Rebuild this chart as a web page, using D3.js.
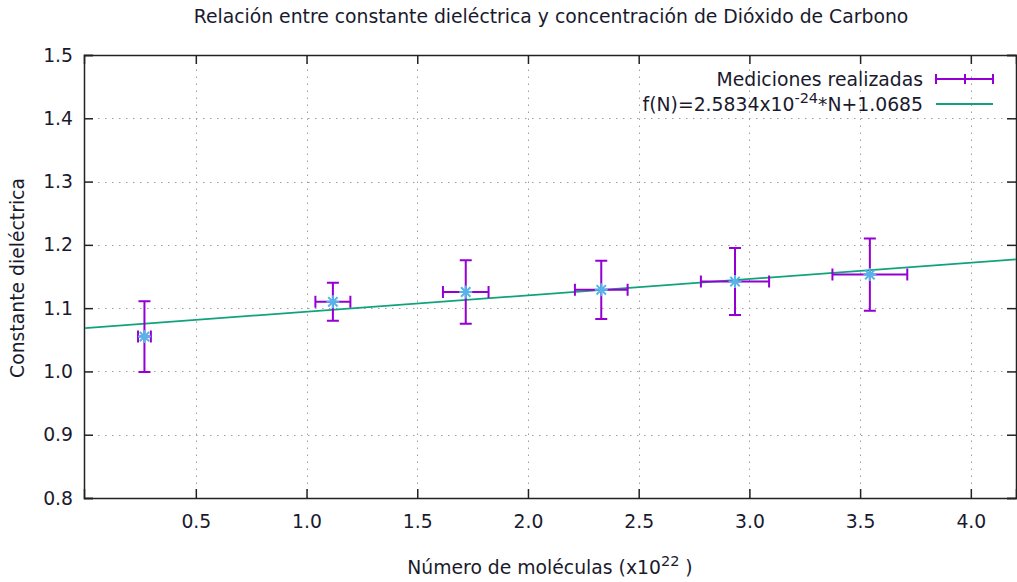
<!DOCTYPE html>
<html>
<head>
<meta charset="utf-8">
<script src="https://cdn.jsdelivr.net/npm/d3@7"></script>
<style>
  body { margin: 0; background: #fff; }
  svg { display: block; font-family: "DejaVu Sans", sans-serif; }
</style>
</head>
<body>
<svg width="1017" height="582"></svg>
<script>
// measured points (x in units of 1e22 molecules)
var xVals = [0.268, 1.119, 1.719, 2.331, 2.935, 3.544];
var yVals = [1.055, 1.110, 1.1255, 1.129, 1.142, 1.153];
var xErr  = [0.029, 0.079, 0.103, 0.119, 0.154, 0.169];
var yErr  = [0.056, 0.030, 0.050, 0.046, 0.053, 0.057];

// fit f(N) = 2.5834e-24*N + 1.0685  -> per 1e22 units
var slope = 0.025834, intercept = 1.0685;

var xTicks = [0.5, 1.0, 1.5, 2.0, 2.5, 3.0, 3.5, 4.0];
var yTicks = [0.8, 0.9, 1.0, 1.1, 1.2, 1.3, 1.4, 1.5];

var svg = d3.select("svg");
var mLeft = 84, mRight = 1016, mTop = 55, mBottom = 498;

var x = d3.scaleLinear().domain([-0.005, 4.204]).range([mLeft, mRight]);
var y = d3.scaleLinear().domain([0.8, 1.5]).range([mBottom, mTop]);

var purple = "#9400d3", green = "#10a37a", blue = "#56b4e9";
var fs = 18.8, sup = 14.5, txtCol = "#1a1a2e";

// grid
var grid = svg.append("g").attr("stroke", "#a0a0a0").attr("stroke-width", 1)
    .attr("stroke-dasharray", "1.5,5.5");
grid.selectAll(".gx").data(xTicks).enter().append("line")
    .attr("x1", d => Math.round(x(d)) + 0.5).attr("x2", d => Math.round(x(d)) + 0.5)
    .attr("y1", mBottom).attr("y2", mTop);
grid.selectAll(".gy").data(yTicks.slice(1, -1)).enter().append("line")
    .attr("y1", d => Math.round(y(d)) + 0.5).attr("y2", d => Math.round(y(d)) + 0.5)
    .attr("x1", mLeft).attr("x2", mRight);

// axes with inward ticks, mirrored
var tl = -9;
svg.append("g").attr("transform", "translate(0," + mBottom + ")")
    .call(d3.axisBottom(x).tickValues(xTicks).tickSize(tl).tickPadding(17).tickFormat(d3.format(".1f")));
svg.append("g").attr("transform", "translate(0," + mTop + ")")
    .call(d3.axisTop(x).tickValues(xTicks).tickSize(tl).tickFormat(""));
svg.append("g").attr("transform", "translate(" + mLeft + ",0)")
    .call(d3.axisLeft(y).tickValues(yTicks).tickSize(tl).tickPadding(11).tickFormat(d3.format(".1f")));
svg.append("g").attr("transform", "translate(" + mRight + ",0)")
    .call(d3.axisRight(y).tickValues(yTicks).tickSize(tl).tickFormat(""));
svg.selectAll(".domain").attr("stroke", "#222").attr("stroke-width", 1.5);
svg.selectAll(".tick line").attr("stroke", "#222").attr("stroke-width", 1.5);
svg.selectAll(".tick text").attr("font-size", fs).attr("fill", txtCol)
    .attr("font-family", "DejaVu Sans, sans-serif");

// fit line
var plot = svg.append("g");
plot.append("clipPath").attr("id", "clip").append("rect")
    .attr("x", mLeft).attr("y", mTop).attr("width", mRight - mLeft).attr("height", mBottom - mTop);
plot.append("line")
    .attr("clip-path", "url(#clip)")
    .attr("x1", x(0)).attr("y1", y(intercept))
    .attr("x2", x(4.204)).attr("y2", y(slope * 4.204 + intercept))
    .attr("stroke", green).attr("stroke-width", 1.8);

// error bars
var cap = 6;
var pts = xVals.map((v, i) => ({x: v, y: yVals[i], ex: xErr[i], ey: yErr[i]}));
var eb = plot.append("g").attr("stroke", purple).attr("stroke-width", 2).attr("fill", "none");
pts.forEach(function(p) {
  var cx = x(p.x), cy = y(p.y);
  var y0 = y(p.y - p.ey), y1 = y(p.y + p.ey);
  var x0 = x(p.x - p.ex), x1 = x(p.x + p.ex);
  eb.append("path").attr("d",
    "M" + cx + "," + y0 + "V" + y1 +
    "M" + (cx - cap) + "," + y0 + "H" + (cx + cap) +
    "M" + (cx - cap) + "," + y1 + "H" + (cx + cap) +
    "M" + x0 + "," + cy + "H" + x1 +
    "M" + x0 + "," + (cy - cap) + "V" + (cy + cap) +
    "M" + x1 + "," + (cy - cap) + "V" + (cy + cap));
});

// star markers
var s = 6.5, d2 = s * 0.72;
plot.append("g").selectAll("path").data(pts).enter().append("path")
    .attr("transform", d => "translate(" + x(d.x) + "," + y(d.y) + ")")
    .attr("d", "M" + (-s) + ",0H" + s + "M0," + (-s) + "V" + s +
               "M" + (-d2) + "," + (-d2) + "L" + d2 + "," + d2 +
               "M" + (-d2) + "," + d2 + "L" + d2 + "," + (-d2))
    .attr("stroke", blue).attr("stroke-width", 2).attr("fill", "none");

// legend
var lg = svg.append("g").attr("font-size", fs).attr("fill", txtCol);
lg.append("text").attr("x", 923).attr("y", 86).attr("text-anchor", "end").text("Mediciones realizadas");
var lt = lg.append("text").attr("x", 923).attr("y", 111).attr("text-anchor", "end");
lt.append("tspan").text("f(N)=2.5834x10");
lt.append("tspan").attr("dy", -8).attr("font-size", sup).text("-24");
lt.append("tspan").attr("dy", 8).text("*N+1.0685");
lg.append("path").attr("d", "M936,79H993M936,74V84M993,74V84M965,74V84")
    .attr("stroke", purple).attr("stroke-width", 2).attr("fill", "none");
lg.append("line").attr("x1", 936).attr("x2", 993).attr("y1", 104).attr("y2", 104)
    .attr("stroke", green).attr("stroke-width", 1.8);

// title and axis labels
svg.append("text").attr("x", 551).attr("y", 23).attr("text-anchor", "middle")
    .attr("font-size", fs).attr("fill", txtCol)
    .text("Relación entre constante dieléctrica y concentración de Dióxido de Carbono");
var xl = svg.append("text").attr("x", 550).attr("y", 574).attr("text-anchor", "middle")
    .attr("font-size", fs).attr("fill", txtCol);
xl.append("tspan").text("Número de moléculas (x10");
xl.append("tspan").attr("dy", -8).attr("font-size", sup).text("22");
xl.append("tspan").attr("dy", 8).text(" )");
svg.append("text").attr("transform", "translate(24,278) rotate(-90)")
    .attr("text-anchor", "middle").attr("font-size", fs).attr("fill", txtCol)
    .text("Constante dieléctrica");
</script>
</body>
</html>
